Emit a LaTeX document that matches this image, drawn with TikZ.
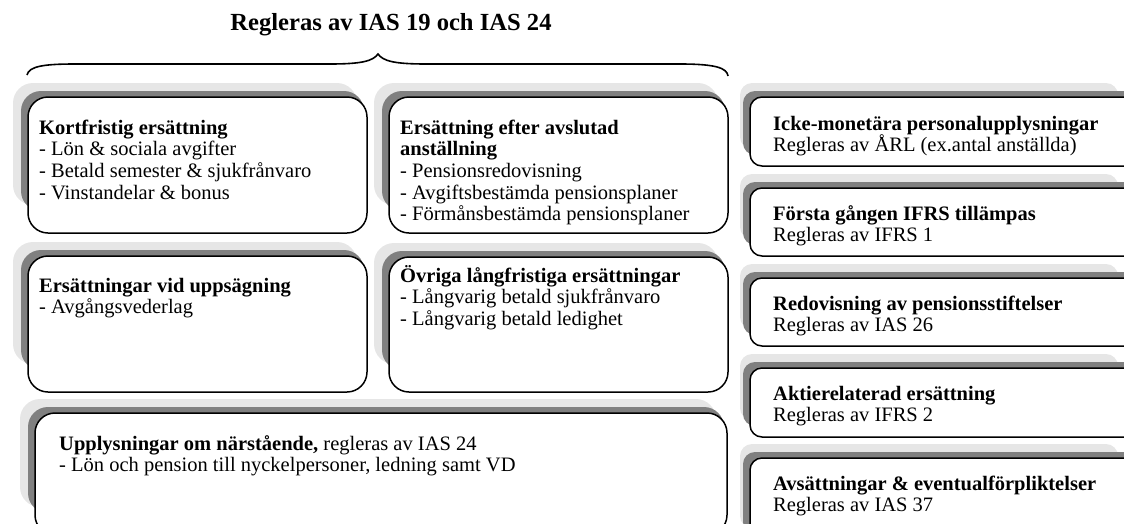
\documentclass[tikz,border=0pt]{standalone}
\usepackage{fontspec}
\setmainfont{Liberation Serif}
\definecolor{lightsh}{HTML}{E6E6E6}
\definecolor{darksh}{HTML}{808080}
\tikzset{
  whitebox/.style={draw=black, fill=white, line width=1.5pt, rectangle, inner sep=0pt},
  boxtext/.style={anchor=base west, align=left, inner sep=0pt, font=\fontsize{20.5}{21.7}\selectfont},
  titletext/.style={anchor=base, inner sep=0pt, font=\fontsize{24.6}{26}\selectfont\bfseries},
  brace/.style={draw=black, line width=1.6pt}
}
% name, x0, y0, x1, y1, radius, light left offset, light right edge, bottom cut
\newcommand\shadowbox[9]{%
  \fill[lightsh, rounded corners=#6] ({#2-#7},{#3-14}) rectangle ({#8},{#5-#9});
  \fill[darksh, rounded corners=#6] ({#2-7},{#3-6}) rectangle ({#4-3},{#5-#9+6});
  \node[whitebox, rounded corners=#6, minimum width={(#4-#2)*1pt}, minimum height={(#5-#3)*1pt}]
    (#1) at ({(#2+#4)/2},{(#3+#5)/2}) {};
}
\begin{document}
\begin{tikzpicture}[x=1pt,y=-1pt]
\useasboundingbox (0,0) rectangle (1124,523);
\clip (0,0) rectangle (1124,523);

% title and brace
\node[titletext] (title) at (391,30) {Regleras av IAS 19 och IAS 24};
\draw[brace] (27,75) .. controls (29,66) and (45,64) .. (75,64) -- (330,64)
  .. controls (362,64) and (373,61) .. (378,54)
  .. controls (383,61) and (394,64) .. (426,64) -- (680,64)
  .. controls (716,64) and (727,68) .. (728,76);

% left boxes
\shadowbox{b1}{28}{97}{367}{233}{20pt}{15}{357}{28}
\shadowbox{b2}{389}{97}{728}{233}{20pt}{15}{718}{28}
\shadowbox{b3}{28}{256}{367}{392}{20pt}{15}{357}{28}
\shadowbox{b4}{389}{257}{728}{392}{20pt}{15}{718}{28}
\shadowbox{b5}{35}{413}{727}{535}{20pt}{15}{716}{28}

% right boxes
\shadowbox{r1}{750}{97}{1140}{166}{12pt}{10}{1118}{17}
\shadowbox{r2}{750}{188}{1140}{256}{12pt}{10}{1118}{17}
\shadowbox{r3}{750}{278}{1140}{346}{12pt}{10}{1118}{17}
\shadowbox{r4}{750}{368}{1140}{437}{12pt}{10}{1118}{17}
\shadowbox{r5}{750}{458}{1140}{545}{12pt}{10}{1118}{17}

% texts (anchor = baseline of the last line)
\node[boxtext] (t1) at (39,199.1) {\textbf{Kortfristig ersättning}\\- Lön \& sociala avgifter\\- Betald semester \& sjukfrånvaro\\- Vinstandelar \& bonus};
\begin{scope}
\clip (389,97) rectangle (728,227);
\node[boxtext] (t2) at (400,220.8) {\textbf{Ersättning efter avslutad}\\\textbf{anställning}\\- Pensionsredovisning\\- Avgiftsbestämda pensionsplaner\\- Förmånsbestämda pensionsplaner};
\end{scope}
\node[boxtext] (t3) at (39,313.7) {\textbf{Ersättningar vid uppsägning}\\- Avgångsvederlag};
\node[boxtext] (t4) at (400,325.4) {\textbf{Övriga långfristiga ersättningar}\\- Långvarig betald sjukfrånvaro\\- Långvarig betald ledighet};
\node[boxtext] (t5) at (59,471.7) {\textbf{Upplysningar om närstående,} regleras av IAS 24\\- Lön och pension till nyckelpersoner, ledning samt VD};

\node[boxtext] (s1) at (773,151.7) {\textbf{Icke-monetära personalupplysningar}\\Regleras av ÅRL (ex.antal anställda)};
\node[boxtext] (s2) at (773,241.7) {\textbf{Första gången IFRS tillämpas}\\Regleras av IFRS 1};
\node[boxtext] (s3) at (773,331.7) {\textbf{Redovisning av pensionsstiftelser}\\Regleras av IAS 26};
\node[boxtext] (s4) at (773,421.7) {\textbf{Aktierelaterad ersättning}\\Regleras av IFRS 2};
\node[boxtext] (s5) at (773,511.7) {\textbf{Avsättningar \& eventualförpliktelser}\\Regleras av IAS 37};
\end{tikzpicture}
\end{document}
